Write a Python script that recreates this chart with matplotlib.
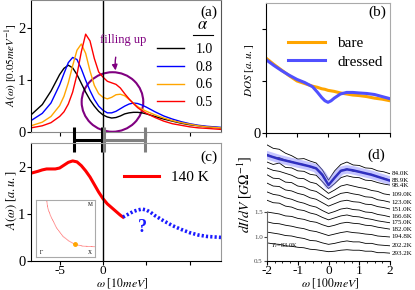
import numpy as np
import matplotlib.pyplot as plt
from matplotlib.patches import Ellipse
from matplotlib.ticker import MultipleLocator

plt.rcParams['font.family'] = ['Liberation Serif', 'DejaVu Serif']
plt.rcParams['mathtext.fontset'] = 'stix'
plt.rcParams['axes.unicode_minus'] = False
plt.rcParams['xtick.major.size'] = 3
plt.rcParams['ytick.major.size'] = 3

# (a) spectral function for different alpha
w_a = [-8.3, -7, -6, -5, -4.5, -4, -3.5, -3, -2.5, -2, -1.5, -1, -0.5, 0, 0.5, 1,
       1.5, 2, 2.5, 3, 3.5, 4, 4.5, 5, 6, 7, 8, 9, 10, 11, 12, 13.6]
alphas = ['1.0', '0.8', '0.6', '0.5']
alpha_colors = ['black', 'blue', 'orange', 'red']
A_10 = [0.33, 0.53, 0.79, 1.11, 1.23, 1.29, 1.24, 1.11, 0.94, 0.77, 0.62, 0.50, 0.40, 0.33, 0.29, 0.27,
        0.28, 0.31, 0.35, 0.37, 0.38, 0.38, 0.37, 0.35, 0.30, 0.25, 0.21, 0.17, 0.14, 0.12, 0.10, 0.08]
A_08 = [0.22, 0.36, 0.56, 0.91, 1.13, 1.34, 1.44, 1.40, 1.22, 1.00, 0.80, 0.63, 0.50, 0.42, 0.37, 0.37,
        0.40, 0.45, 0.50, 0.54, 0.56, 0.55, 0.52, 0.48, 0.39, 0.31, 0.25, 0.20, 0.16, 0.13, 0.11, 0.09]
A_06 = [0.12, 0.19, 0.30, 0.51, 0.69, 0.95, 1.28, 1.58, 1.70, 1.52, 1.18, 0.90, 0.74, 0.67, 0.64, 0.67,
        0.72, 0.73, 0.70, 0.63, 0.56, 0.49, 0.44, 0.40, 0.33, 0.27, 0.22, 0.18, 0.15, 0.12, 0.10, 0.08]
A_05 = [0.08, 0.12, 0.18, 0.30, 0.39, 0.54, 0.77, 1.11, 1.55, 1.89, 1.76, 1.42, 1.16, 1.06, 0.98, 0.95,
        0.92, 0.85, 0.74, 0.64, 0.55, 0.47, 0.41, 0.36, 0.28, 0.21, 0.16, 0.13, 0.10, 0.08, 0.07, 0.05]

# (b) density of states
w_b = [-2, -1.75, -1.5, -1.25, -1, -0.75, -0.5, -0.35, -0.2, -0.1, 0, 0.1, 0.2, 0.4, 0.6,
       0.8, 1, 1.25, 1.5, 1.75, 2]
dos_bare = [1.44, 1.32, 1.21, 1.10, 1.00, 0.95, 0.90, 0.88, 0.85, 0.84, 0.82, 0.81, 0.80, 0.77, 0.75,
            0.73, 0.72, 0.70, 0.67, 0.65, 0.62]
dos_dressed = [1.41, 1.30, 1.20, 1.11, 1.03, 0.97, 0.89, 0.79, 0.68, 0.62, 0.59, 0.62, 0.67, 0.75, 0.78,
               0.78, 0.77, 0.76, 0.74, 0.70, 0.66]

# (c) measured spectrum at 140 K, and guessed continuation
w_c = [-8.3, -7.5, -7, -6.5, -6, -5.5, -5, -4.5, -4, -3.5, -3, -2.5, -2, -1.5, -1, -0.5, 0,
       0.5, 1, 1.5, 2, 2.3]
A_c = [1.86, 1.90, 1.93, 1.95, 1.95, 1.95, 1.97, 2.03, 2.09, 2.12, 2.10, 2.02, 1.91, 1.78, 1.62,
       1.46, 1.32, 1.21, 1.13, 1.05, 0.97, 0.93]
w_guess = [2.3, 3, 3.5, 4, 4.5, 5, 5.5, 6, 7, 8, 9, 10, 11, 12, 13.6]
A_guess = [0.93, 1.00, 1.05, 1.08, 1.10, 1.08, 1.03, 0.96, 0.85, 0.75, 0.67, 0.60, 0.55, 0.52, 0.50]
gap_start = [-3.3, 0.15]
gap_end = [-0.15, 4.8]
gap_colors = ['black', 'gray']

# inset: fermi surface
fs_x = [0.18, 0.20, 0.24, 0.30, 0.35, 0.46, 0.56, 0.66, 0.80, 1.0]
fs_y = [1.0, 0.86, 0.74, 0.61, 0.51, 0.36, 0.28, 0.22, 0.19, 0.18]

# (d) dI/dV at different temperatures
w_d = [-2.0, -1.8, -1.6, -1.4, -1.2, -1.0, -0.8, -0.6, -0.4, -0.2, 0.0,
       0.2, 0.4, 0.6, 0.8, 1.0, 1.2, 1.4, 1.6, 1.8, 2.0]
temps = ['84.0K', '88.9K', '98.4K', '109.0K', '123.0K', '151.0K', '166.6K', '175.0K',
         '182.0K', '194.8K', '202.2K', '293.2K']
didv = [
    [2.87, 2.80, 2.78, 2.70, 2.65, 2.58, 2.59, 2.54, 2.50, 2.36, 2.15, 2.34, 2.47, 2.52, 2.46, 2.45, 2.40, 2.39, 2.34, 2.32, 2.28],
    [2.68, 2.62, 2.61, 2.56, 2.53, 2.49, 2.47, 2.42, 2.38, 2.24, 2.05, 2.20, 2.35, 2.38, 2.33, 2.32, 2.29, 2.27, 2.21, 2.19, 2.15],
    [2.52, 2.47, 2.50, 2.41, 2.40, 2.34, 2.33, 2.27, 2.25, 2.12, 1.98, 2.08, 2.20, 2.24, 2.21, 2.20, 2.15, 2.14, 2.10, 2.07, 2.05],
    [2.40, 2.35, 2.33, 2.29, 2.25, 2.19, 2.18, 2.11, 2.08, 1.98, 1.88, 1.95, 2.03, 2.06, 2.03, 2.00, 1.98, 1.94, 1.92, 1.87, 1.85],
    [2.26, 2.19, 2.18, 2.11, 2.10, 2.03, 2.01, 1.95, 1.92, 1.84, 1.76, 1.82, 1.88, 1.90, 1.87, 1.85, 1.81, 1.80, 1.75, 1.73, 1.70],
    [2.09, 2.03, 2.02, 1.95, 1.93, 1.88, 1.85, 1.79, 1.76, 1.69, 1.62, 1.67, 1.72, 1.74, 1.71, 1.70, 1.66, 1.65, 1.61, 1.59, 1.56],
    [1.91, 1.86, 1.84, 1.79, 1.76, 1.71, 1.68, 1.63, 1.60, 1.53, 1.47, 1.51, 1.56, 1.58, 1.55, 1.54, 1.50, 1.49, 1.45, 1.43, 1.40],
    [1.74, 1.69, 1.68, 1.62, 1.60, 1.55, 1.53, 1.48, 1.45, 1.39, 1.34, 1.38, 1.42, 1.44, 1.41, 1.40, 1.37, 1.35, 1.32, 1.30, 1.28],
    [1.50, 1.48, 1.46, 1.42, 1.41, 1.37, 1.35, 1.31, 1.29, 1.24, 1.20, 1.23, 1.27, 1.29, 1.27, 1.26, 1.23, 1.22, 1.19, 1.17, 1.15],
    [1.30, 1.27, 1.26, 1.23, 1.21, 1.18, 1.16, 1.12, 1.10, 1.06, 1.02, 1.05, 1.08, 1.10, 1.08, 1.07, 1.05, 1.04, 1.01, 1.00, 0.99],
    [1.09, 1.07, 1.05, 1.02, 1.01, 0.98, 0.96, 0.92, 0.91, 0.87, 0.84, 0.86, 0.89, 0.91, 0.89, 0.89, 0.86, 0.86, 0.83, 0.82, 0.81],
    [0.87, 0.85, 0.84, 0.81, 0.80, 0.78, 0.77, 0.74, 0.73, 0.71, 0.69, 0.70, 0.72, 0.73, 0.72, 0.72, 0.70, 0.70, 0.67, 0.67, 0.66],
]
fit_d = [2.66, 2.62, 2.58, 2.55, 2.52, 2.49, 2.46, 2.43, 2.39, 2.26, 2.05,
         2.20, 2.34, 2.37, 2.35, 2.32, 2.29, 2.26, 2.22, 2.18, 2.14]

fig = plt.figure(figsize=(4.15, 2.9), dpi=100)
ax_a = fig.add_axes([0.0747, 0.5448, 0.4578, 0.4552])
ax_b = fig.add_axes([0.641, 0.5414, 0.2988, 0.4483])
ax_c = fig.add_axes([0.0747, 0.1, 0.4578, 0.4069])
ax_d = fig.add_axes([0.6434, 0.1, 0.2964, 0.4224])

# ---- (a)
for A, lab, col in zip([A_10, A_08, A_06, A_05], alphas, alpha_colors):
    ax_a.plot(w_a, A, color=col, lw=1.0, label=lab)
ax_a.axvline(0, color='black', lw=1.0)
ax_a.set_xlim(-8.3, 13.6)
ax_a.set_ylim(0, 2.55)
ax_a.set_xticks([-5, 0, 5, 10])
ax_a.set_xticklabels([])
ax_a.set_yticks([0, 1, 2])
ax_a.tick_params(labelsize=10.5, pad=1)
ax_a.set_ylabel(r'$A(\omega)$ [$0.05meV^{-1}$]', fontsize=8)
ax_a.yaxis.set_label_coords(-0.063, 0.51)
ax_a.spines['bottom'].set_color('#888888')
ax_a.spines['right'].set_color('#555555')
ax_a.spines['top'].set_color('#888888')
ax_a.legend(loc='upper right', bbox_to_anchor=(1.0, 0.74), frameon=False, fontsize=10,
            handlelength=2.0, labelspacing=0.35, borderaxespad=0.2, handletextpad=0.8)
ax_a.text(0.905, 0.81, r'$\alpha$', transform=ax_a.transAxes, fontsize=12, ha='center', va='center')
ax_a.plot([0.853, 0.958], [0.735, 0.735], color='black', lw=0.8, transform=ax_a.transAxes)
ax_a.text(0.937, 0.91, '(a)', transform=ax_a.transAxes, fontsize=11, ha='center', va='center')
ax_a.add_patch(Ellipse((1.09, 0.58), 7.1, 1.15, fill=False, color='purple', lw=1.5))
ax_a.annotate('filling up', xy=(1.45, 1.19), xytext=(2.3, 1.77), color='purple', fontsize=9,
              ha='center', va='center',
              arrowprops=dict(arrowstyle='-|>', color='purple', lw=1.0,
                              connectionstyle='arc3,rad=0.2', shrinkA=6, shrinkB=0,
                              mutation_scale=8))

# ---- (b)
ax_b.plot(w_b, dos_bare, color='orange', lw=2.2, label='bare')
ax_b.plot(w_b, dos_dressed, color='#5050ff', lw=2.2, label='dressed')
ax_b.set_xlim(-2, 2)
ax_b.set_ylim(0, 2.5)
ax_b.set_xticks([-2, -1, 0, 1, 2])
ax_b.set_xticklabels([])
ax_b.set_yticks([0, 1, 2])
ax_b.set_yticklabels(['0', '', ''])
ax_b.tick_params(labelsize=10.5, pad=1)
ax_b.set_ylabel(r'$DOS$ [$a.u.$]', fontsize=8)
ax_b.yaxis.set_label_coords(-0.08, 0.48)
for s in ['top', 'right']:
    ax_b.spines[s].set_color('#aaaaaa')
ax_b.legend(loc='upper right', bbox_to_anchor=(1.0, 0.8), frameon=False, fontsize=11,
            handlelength=2.4, labelspacing=0.3, borderaxespad=0.1)
ax_b.text(0.9, 0.93, '(b)', transform=ax_b.transAxes, fontsize=11, ha='center', va='center')

# ---- (c)
ax_c.plot(w_c, A_c, color='red', lw=2.2, label='140 K')
ax_c.plot(w_guess, A_guess, color='#1a1aff', lw=2.6, ls=(0, (0.6, 0.6)))
ax_c.axvline(0, color='black', lw=1.0)
ax_c.plot([0, 0], [2.5, 2.72], color='black', lw=1.0, clip_on=False)
ax_c.text(4.6, 0.72, '?', color='#1a1aff', fontsize=13, fontweight='bold', ha='center', va='center')
for x0, x1, col in zip(gap_start, gap_end, gap_colors):
    ax_c.plot([x0, x1], [2.57, 2.57], color=col, lw=2.2, clip_on=False, solid_capstyle='butt')
    ax_c.plot([x0, x0], [2.31, 2.84], color=col, lw=2.2, clip_on=False, solid_capstyle='butt')
    ax_c.plot([x1, x1], [2.31, 2.84], color=col, lw=2.2, clip_on=False, solid_capstyle='butt')
ax_c.set_xlim(-8.3, 13.6)
ax_c.set_ylim(0, 2.5)
ax_c.set_xticks([-5, 0, 5, 10])
ax_c.set_xticklabels(['-5', '0', '', ''])
ax_c.set_yticks([0, 1, 2])
ax_c.tick_params(labelsize=10.5, pad=1)
ax_c.tick_params(axis='x', labelsize=9.5, pad=0)
ax_c.set_xlabel(r'$\omega$ [$10meV$]', fontsize=8.5, va='bottom')
ax_c.xaxis.set_label_coords(0.48, -0.245)
ax_c.set_ylabel(r'$A(\omega)$ [$a.u.$]', fontsize=9)
ax_c.yaxis.set_label_coords(-0.063, 0.52)
for s in ['top', 'right']:
    ax_c.spines[s].set_color('#999999')
ax_c.legend(loc='upper right', bbox_to_anchor=(0.97, 0.82), frameon=False, fontsize=11,
            handlelength=2.3, borderaxespad=0.0)
ax_c.text(0.937, 0.88, '(c)', transform=ax_c.transAxes, fontsize=11, ha='center', va='center')

ins = fig.add_axes([0.0867, 0.1138, 0.1422, 0.1966])
ins.plot(fs_x, fs_y, color='red', lw=0.6, ls=(0, (1, 0.5)), alpha=0.7)
ins.plot([0.66], [0.22], 'o', color='orange', ms=2.5)
ins.set_xlim(0, 1)
ins.set_ylim(0, 1)
ins.set_xticks([])
ins.set_yticks([])
for s in ins.spines.values():
    s.set_color('#aaaaaa')
ins.text(0.05, 0.05, r'$\Gamma$', fontsize=4, transform=ins.transAxes)
ins.text(0.88, 0.05, 'X', fontsize=4, transform=ins.transAxes)
ins.text(0.88, 0.9, 'M', fontsize=4, transform=ins.transAxes)

# ---- (d)
for vals, t in zip(didv, temps):
    ax_d.plot(w_d, vals, color='black', lw=0.6)
    ax_d.text(2.06, vals[-1], t, fontsize=5, va='center', ha='left', clip_on=False)
ax_d.plot(w_d, fit_d, color='#8080ff', lw=6, alpha=0.45, solid_capstyle='round')
ax_d.plot(w_d, fit_d, color='#3030c0', lw=1.8)
ax_d.set_xlim(-2, 2)
ax_d.set_ylim(0.5, 3.0)
ax_d.set_xticks([-2, -1, 0, 1, 2])
ax_d.xaxis.set_minor_locator(MultipleLocator(0.25))
ax_d.tick_params(axis='x', labelsize=9.5, pad=0)
ax_d.tick_params(axis='x', which='minor', length=1.5)
ax_d.set_yticks([0.5, 1.0, 1.5])
ax_d.set_yticklabels(['0.5', '1.0', '1.5'])
ax_d.tick_params(axis='y', labelsize=5, length=2, pad=1, colors='#444444')
ax_d.spines['left'].set_bounds(0.5, 1.5)
ax_d.spines['left'].set_color('#666666')
ax_d.spines['top'].set_visible(False)
ax_d.spines['right'].set_visible(False)
ax_d.set_xlabel(r'$\omega$ [$100meV$]', fontsize=8.5, va='bottom')
ax_d.xaxis.set_label_coords(0.51, -0.236)
ax_d.set_ylabel(r'$dI/dV$ [$G\Omega^{-1}$]', fontsize=10)
ax_d.yaxis.set_label_coords(-0.105, 0.54)
ax_d.text(0.03, 0.11, r'$T_c$=83.0K', fontsize=4.5, transform=ax_d.transAxes)
ax_d.text(0.886, 0.865, '(d)', transform=ax_d.transAxes, fontsize=11, ha='center', va='center')

fig.savefig('out.png', dpi=100)
